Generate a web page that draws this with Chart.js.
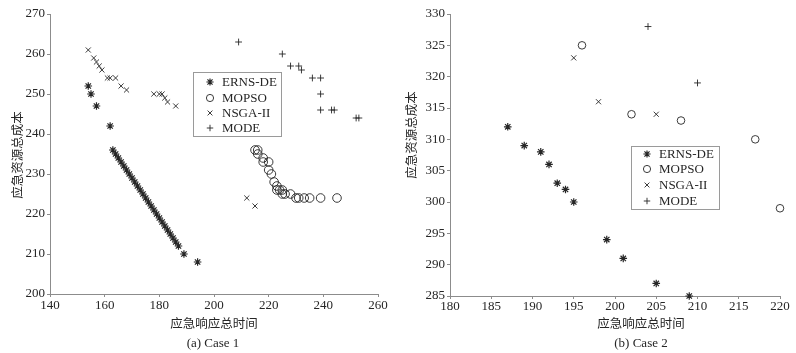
<!DOCTYPE html>
<html><head><meta charset="utf-8">
<script src="https://cdn.jsdelivr.net/npm/chart.js@4/dist/chart.umd.min.js"></script>
<style>
html,body{margin:0;padding:0;background:#fff;}
#wrap{position:relative;width:796px;height:353px;background:#fff;}
.c{position:absolute;top:0;width:398px;height:353px;}
</style></head><body>
<div id="wrap">
<div class="c" style="left:0"><canvas id="c1" width="398" height="353"></canvas></div>
<div class="c" style="left:398px"><canvas id="c2" width="398" height="353"></canvas></div>
</div>
<script>
// ---------- data ----------
const seriesNames = ['ERNS-DE', 'MOPSO', 'NSGA-II', 'MODE'];
const xTitle = '应急响应总时间';
const yTitle = '应急资源总成本';
const captions = ['(a) Case 1', '(b) Case 2'];

// Case 1 (x = response time, y = resource cost)
const case1ErnsDe = [[154,252],[155,250],[157,247],[162,242],[163,236],[164,235],[165,234],[166,233],[167,232],[168,231],[169,230],[170,229],[171,228],[172,227],[173,226],[174,225],[175,224],[176,223],[177,222],[178,221],[179,220],[180,219],[181,218],[182,217],[183,216],[184,215],[185,214],[186,213],[187,212],[189,210],[194,208]];
const case1Mopso = [[215,236],[216,236],[216,235],[218,234],[218,233],[220,233],[220,231],[221,230],[222,228],[223,227],[223,226],[224,226],[225,226],[225,225],[226,225],[228,225],[230,224],[231,224],[233,224],[235,224],[239,224],[245,224]];
const case1Nsga = [[154,261],[156,259],[157,258],[158,257],[159,256],[161,254],[162,254],[164,254],[166,252],[168,251],[178,250],[180,250],[181,250],[182,249],[183,248],[186,247],[212,224],[215,222]];
const case1Mode = [[209,263],[225,260],[228,257],[231,257],[232,256],[236,254],[239,254],[239,250],[239,246],[243,246],[244,246],[252,244],[253,244]];
const case1XTicks = [140, 160, 180, 200, 220, 240, 260];
const case1YTicks = [200, 210, 220, 230, 240, 250, 260, 270];

// Case 2
const case2ErnsDe = [[187,312],[189,309],[191,308],[192,306],[193,303],[194,302],[195,300],[199,294],[201,291],[205,287],[209,285]];
const case2Mopso = [[196,325],[202,314],[208,313],[217,310],[220,299]];
const case2Nsga = [[195,323],[198,316],[205,314]];
const case2Mode = [[204,328],[210,319]];
const case2XTicks = [180, 185, 190, 195, 200, 205, 210, 215, 220];
const case2YTicks = [285, 290, 295, 300, 305, 310, 315, 320, 325, 330];

// ---------- styling ----------
const INK = '#262626';
const AXIS = '#8c8c8c';
const SERIF = '"Liberation Serif", "Times New Roman", serif';
const CJK = '"Noto Sans CJK SC", "Noto Sans", sans-serif';
const markerStyles = [
  {pointStyle: 'star', radius: 3.8, borderWidth: 1.2},
  {pointStyle: 'circle', radius: 4.3, borderWidth: 0.9},
  {pointStyle: 'crossRot', radius: 3.6, borderWidth: 0.9},
  {pointStyle: 'cross', radius: 3.4, borderWidth: 0.9}
];

function toPts(arr) { return arr.map(p => ({x: p[0], y: p[1]})); }

function makeDatasets(seriesData, circleR) {
  return seriesData.map((d, i) => ({
    label: seriesNames[i],
    data: toPts(d),
    pointStyle: markerStyles[i].pointStyle,
    pointRadius: i === 1 ? circleR : markerStyles[i].radius,
    pointHoverRadius: i === 1 ? circleR : markerStyles[i].radius,
    pointBorderWidth: markerStyles[i].borderWidth,
    borderColor: INK,
    pointBorderColor: INK,
    backgroundColor: 'rgba(0,0,0,0)',
    pointBackgroundColor: 'rgba(0,0,0,0)',
    showLine: false,
    clip: false
  }));
}

function makeAnnot(cfg) {
  return {
    id: 'annot',
    afterDraw(chart) {
      const ctx = chart.ctx;
      ctx.save();
      ctx.fillStyle = INK;
      ctx.textAlign = 'center';
      ctx.textBaseline = 'middle';
      ctx.font = '12.5px ' + CJK;
      ctx.fillText(xTitle, cfg.xTitleX, cfg.xTitleY);
      ctx.font = '13px ' + SERIF;
      ctx.fillText(cfg.caption, cfg.capX, cfg.capY);
      ctx.save();
      ctx.translate(cfg.yTitleX, cfg.yTitleY);
      ctx.rotate(-Math.PI / 2);
      ctx.font = '12.5px ' + CJK;
      ctx.fillText(yTitle, 0, 0);
      ctx.restore();
      // legend box
      const L = cfg.legend;
      ctx.fillStyle = '#fff';
      ctx.fillRect(L.x, L.y, L.w, L.h);
      ctx.strokeStyle = '#9a9a9a';
      ctx.lineWidth = 1;
      ctx.strokeRect(L.x + 0.5, L.y + 0.5, L.w, L.h);
      ctx.textAlign = 'left';
      ctx.font = '13px ' + SERIF;
      chart.data.datasets.forEach((ds, i) => {
        const ry = L.rows[i];
        ctx.strokeStyle = INK;
        ctx.fillStyle = 'rgba(0,0,0,0)';
        ctx.lineWidth = markerStyles[i].borderWidth;
        Chart.helpers.drawPoint(ctx, {
          pointStyle: markerStyles[i].pointStyle,
          radius: i === 1 ? 3.6 : markerStyles[i].radius * 0.95,
          rotation: 0,
          borderWidth: markerStyles[i].borderWidth
        }, L.mx, ry);
        ctx.fillStyle = INK;
        ctx.fillText(ds.label, L.tx, ry + 1);
      });
      ctx.restore();
    }
  };
}

function axis(min, max, step, ticks, fit, pad, isX) {
  return {
    type: 'linear',
    min: min, max: max,
    afterBuildTicks(s) { s.ticks = ticks.map(v => ({value: v})); },
    ticks: {color: INK, font: {family: SERIF, size: 13}, padding: pad, autoSkip: false, maxRotation: 0, stepSize: step},
    grid: {drawOnChartArea: false, drawTicks: true, tickLength: 3, color: AXIS},
    border: {display: true, color: AXIS, width: 1},
    afterFit(s) { if (isX) s.height = fit; else s.width = fit; }
  };
}

function makeChart(id, datasets, sc, padRight, annot) {
  return new Chart(document.getElementById(id), {
    type: 'scatter',
    data: {datasets: datasets},
    options: {
      responsive: false,
      animation: false,
      devicePixelRatio: 1,
      layout: {padding: {left: 0, top: 14, right: padRight, bottom: 0}},
      scales: {x: sc.x, y: sc.y},
      plugins: {legend: {display: false}, tooltip: {enabled: false}}
    },
    plugins: [makeAnnot(annot)]
  });
}

makeChart('c1',
  makeDatasets([case1ErnsDe, case1Mopso, case1Nsga, case1Mode], 4.3),
  {x: axis(140, 260, 20, case1XTicks, 59, 1, true), y: axis(200, 270, 10, case1YTicks, 50, 2, false)},
  20,
  {xTitleX: 214, xTitleY: 323, caption: captions[0], capX: 213, capY: 344, yTitleX: 17, yTitleY: 155,
   legend: {x: 193, y: 72, w: 88, h: 64, mx: 210, tx: 222, rows: [82, 98, 113, 128]}}
);

makeChart('c2',
  makeDatasets([case2ErnsDe, case2Mopso, case2Nsga, case2Mode], 3.8),
  {x: axis(180, 220, 5, case2XTicks, 57, 0, true), y: axis(285, 330, 5, case2YTicks, 52, 2, false)},
  16,
  {xTitleX: 243, xTitleY: 323, caption: captions[1], capX: 243, capY: 344, yTitleX: 13, yTitleY: 135,
   legend: {x: 233, y: 146, w: 88, h: 63, mx: 249, tx: 261, rows: [154, 169, 185, 201]}}
);
</script>
</body></html>
